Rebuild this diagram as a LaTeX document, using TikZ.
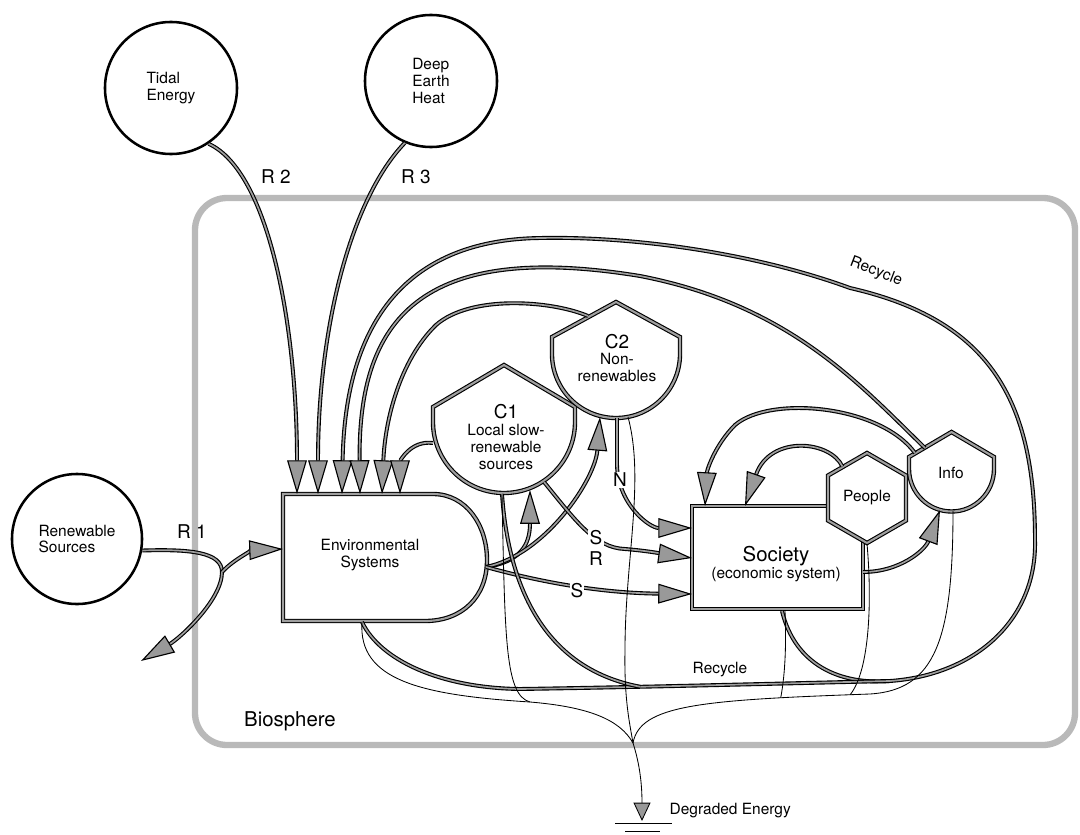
\documentclass[tikz,border=0pt]{standalone}
\usepackage{fontspec}
\setmainfont{TeX Gyre Heros}
\usetikzlibrary{arrows.meta,shapes.geometric}

% roof-topped tank: centre x, centre y, radius, corner y, peak y
\newcommand{\roofshape}[5]{%
  \draw[shapeline, fill=white] ({#1+#3},#2) -- ({#1+#3},#4) -- (#1,#5) -- ({#1-#3},#4) -- ({#1-#3},#2)
    arc[start angle=180, end angle=0, radius=#3] -- cycle;}

\begin{document}
\begin{tikzpicture}[x=0.025cm, y=-0.025cm]
    \tikzstyle{every node}=[font=\fontsize{11}{12}\selectfont, align=center, inner sep=1pt];
    \tikzstyle{source}=[draw, circle, line width=1.8pt, minimum size=3.3cm, inner sep=0pt, align=left];
    \tikzstyle{shapeline}=[draw=black, line width=0.8pt, double=gray!75, double distance=1.5pt];
    \tikzstyle{flow}=[draw=black, line width=0.8pt, double=gray!75, double distance=1.2pt];
    \tikzstyle{heat}=[draw=black, line width=0.6pt];
    \tikzstyle{into}=[-{Triangle[length=24pt, width=14pt, fill=gray!80]}];
    \tikzstyle{biglabel}=[font=\fontsize{13.5}{15}\selectfont];
    \useasboundingbox (0,0) rectangle (1080,835);

    % biosphere
    \draw[line width=4.5pt, gray!55, rounded corners=0.8cm] (195,198) rectangle (1075,745);
    \node[font=\fontsize{14.5}{16}\selectfont] (bio) at (290,721) {Biosphere};

    % outside sources
    \node[source] (tidal) at (171,88) {Tidal\\Energy};
    \node[source] (deep) at (431,81) {Deep\\Earth\\Heat};
    \node[source, minimum size=3.25cm] (renew) at (77,539) {Renewable\\Sources};

    % storages and producers
    \draw[shapeline, fill=white] (283,494) -- (433,494) .. controls (466,494) and (487,525) .. (487,560)
      .. controls (487,597) and (462,621) .. (425,621) -- (283,621) -- cycle;
    \node (env) at (370,555) {Environmental\\Systems};
    \roofshape{504}{422}{71}{407}{365}
    \node (c1) at (506,437) {{\fontsize{13.5}{14}\selectfont C1}\\Local slow-\\renewable\\sources};
    \roofshape{616}{354}{64}{337}{302}
    \node (c2) at (617,358) {{\fontsize{13.5}{14}\selectfont C2}\\Non-\\renewables};
    \node[shapeline, fill=white, minimum width=4.275cm, minimum height=2.575cm] (soc) at (777.5,557.5) {};
    \node (soctxt) at (776,564) {{\fontsize{14.5}{16}\selectfont Society}\\(economic system)};
    \node[shapeline, fill=white, regular polygon, regular polygon sides=6, shape border rotate=30,
      minimum size=2.25cm, inner sep=0pt] (ppl) at (867,498) {People};
    \roofshape{951.5}{469}{42.5}{457}{432}
    \node (info) at (951,473) {Info};

    % connection points
    \coordinate (r1split) at (222,572);
    \coordinate (r1out) at (141,661);
    \foreach \n/\x in {1/297,2/318,3/342,4/360,5/382,6/400}
      \coordinate (env\n) at (\x,494);
    \coordinate (envLt) at (283,549);
    \coordinate (envRt) at (486,567);
    \coordinate (envBot) at (362,622);
    \coordinate (c1L) at (433,443);
    \coordinate (c1B) at (502,494);
    \coordinate (c1S) at (544,482);
    \coordinate (c1In) at (530,490);
    \coordinate (c2L) at (588,316);
    \coordinate (c2In) at (600,417);
    \coordinate (c2N) at (617,418);
    \coordinate (c2B) at (628,417);
    \coordinate (socA) at (705,506);
    \coordinate (socB) at (745,506);
    \coordinate (socN) at (692,528);
    \coordinate (socSR) at (692,558);
    \coordinate (socS) at (692,594);
    \coordinate (socR) at (863,572);
    \coordinate (socD) at (782,611);
    \coordinate (socT) at (785,611);
    \coordinate (infoL) at (925,448);
    \coordinate (infoL2) at (915,453);
    \coordinate (infoB) at (940,510);
    \coordinate (infoD) at (953,511);
    \coordinate (sinkM) at (633,743);
    \coordinate (ground) at (642,821);

    % inflows
    \draw[flow] (renew.-10) .. controls (190,549) and (222,552) .. (r1split);
    \draw[flow, into] (r1split) .. controls (222,600) and (180,638) .. (r1out);
    \draw[flow, into] (r1split) .. controls (235,558) and (255,550) .. (envLt);
    \draw[flow, into] (tidal.-56) .. controls (270,172) and (297,330) .. (env1);
    \draw[flow, into] (deep.-113) .. controls (350,200) and (318,330) .. (env2);
    \node[biglabel] (lblR1) at (192,532) {R 1};
    \node[biglabel] (lblR2) at (276,177) {R 2};
    \node[biglabel] (lblR3) at (416,177) {R 3};

    % feedbacks to environment
    \draw[flow, into] (socD) .. controls (795,665) and (840,685) .. (890,681) coordinate (loopLow)
      .. controls (975,675) and (1037,620) .. (1035,540) .. controls (1035,400) and (990,320) .. (850,288)
      .. controls (760,255) and (640,236) .. (540,238) .. controls (400,240) and (345,330) .. (env3);
    \node[rotate=-21] (rectop) at (876,272) {Recycle};
    \draw[flow, into] (infoL) .. controls (860,385) and (790,305) .. (640,276)
      .. controls (420,240) and (358,320) .. (env4);
    \draw[flow, into] (c2L) .. controls (550,300) and (470,295) .. (436,325)
      .. controls (400,360) and (385,420) .. (env5);
    \draw[flow, into] (c1L) .. controls (410,440) and (400,462) .. (env6);

    % environment to storages and society
    \draw[flow, into] (envRt) .. controls (520,562) and (530,545) .. (c1In);
    \draw[flow, into] (envRt) .. controls (545,555) and (595,480) .. (c2In);
    \draw[flow, into] (envRt) .. controls (540,582) and (600,593) .. (socS);
    \draw[flow, into] (c1S) .. controls (575,520) and (595,548) .. (625,549)
      .. controls (650,551) and (670,555) .. (socSR);
    \draw[flow, into] (c2N) -- (617,465) .. controls (618,505) and (650,528) .. (socN);
    \node[biglabel, fill=white, inner sep=0.5pt] (lblS) at (577,591) {S};
    \node[biglabel, fill=white, inner sep=0.5pt] (lblSR) at (596,548) {S\\R};
    \node[biglabel, fill=white, inner sep=0.5pt] (lblN) at (620,480) {N};

    % society loops
    \draw[flow, into] (infoL2) .. controls (880,405) and (770,395) .. (735,425)
      .. controls (715,445) and (707,470) .. (socA);
    \draw[flow, into] (ppl.128) .. controls (830,440) and (770,435) .. (socB);
    \draw[flow, into] (socR) .. controls (900,572) and (925,550) .. (infoB);

    % recycle along the bottom
    \draw[flow] (envBot) .. controls (380,660) and (440,688) .. (520,689)
      .. controls (650,687) and (800,683) .. (loopLow) coordinate[pos=0.3] (jC1);
    \draw[flow] (c1B) .. controls (508,580) and (540,668) .. (jC1);
    \node (recbot) at (720,670) {Recycle};

    % degraded energy
    \draw[heat] (envBot) .. controls (358,680) and (420,695) .. (530,702) coordinate (jHeat)
      .. controls (590,707) and (620,720) .. (sinkM);
    \draw[heat] (c1B) .. controls (505,640) and (505,695) .. (jHeat);
    \draw[heat] (c2B) .. controls (645,480) and (625,560) .. (625,650)
      .. controls (624,700) and (630,725) .. (sinkM);
    \draw[heat] (infoD) .. controls (953,640) and (935,690) .. (870,694)
      .. controls (700,700) and (640,705) .. (sinkM) coordinate[pos=0.04] (jPpl) coordinate[pos=0.2] (jSoc);
    \draw[heat] (ppl.-90) .. controls (872,600) and (870,670) .. (jPpl);
    \draw[heat] (socT) .. controls (787,660) and (783,685) .. (jSoc);
    \draw[heat, -{Triangle[length=13pt, width=12pt, fill=gray!80]}] (sinkM) .. controls (640,765) and (642,785) .. (ground);
    \draw[heat] (ground) ++(-27,2) -- ++(57,0)
      (ground) ++(-17,10) -- ++(35,0);
    \node[right] (deg) at (668,811) {Degraded Energy};
\end{tikzpicture}
\end{document}
